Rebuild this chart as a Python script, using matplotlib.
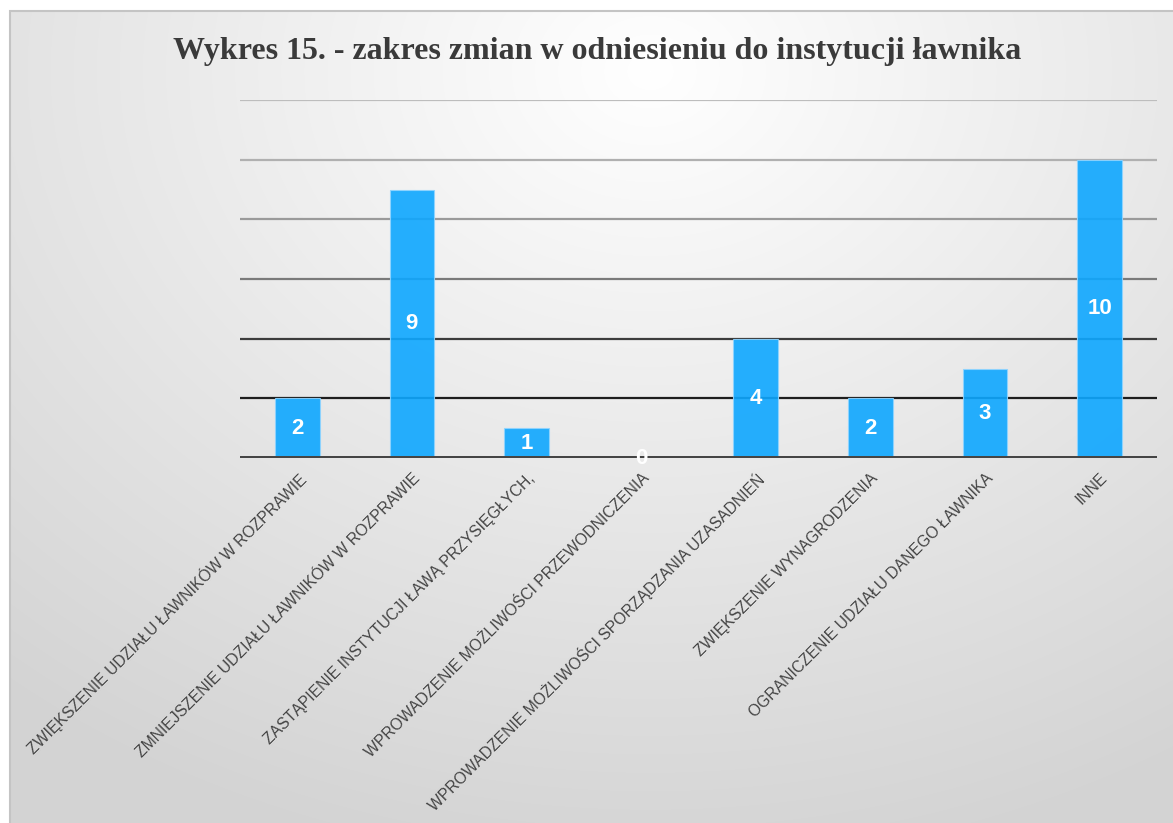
import matplotlib
matplotlib.use("Agg")
import matplotlib.pyplot as plt
from matplotlib.patches import Rectangle
import numpy as np

# dane do wykresu
kategorie = [
    "ZWIĘKSZENIE UDZIAŁU ŁAWNIKÓW W ROZPRAWIE",
    "ZMNIEJSZENIE UDZIAŁU ŁAWNIKÓW W ROZPRAWIE",
    "ZASTĄPIENIE INSTYTUCJI ŁAWĄ PRZYSIĘGŁYCH,",
    "WPROWADZENIE MOŻLIWOŚCI PRZEWODNICZENIA",
    "WPROWADZENIE MOŻLIWOŚCI SPORZĄDZANIA UZASADNIEŃ",
    "ZWIĘKSZENIE WYNAGRODZENIA",
    "OGRANICZENIE UDZIAŁU DANEGO ŁAWNIKA",
    "INNE",
]
liczby = [2, 9, 1, 0, 4, 2, 3, 10]
siatka_y = [2, 4, 6, 8, 10, 12]
siatka_kolory = ["#1e1e1e", "#3c3c3c", "#7a7a7a", "#9a9a9a", "#b0b0b0", "#bdbdbd"]

W, H = 1173, 823
fig = plt.figure(figsize=(W / 100, H / 100), dpi=100)
fig.patch.set_facecolor("white")

# tło z gradientem
bg = fig.add_axes([10 / W, 0, 1 - 10 / W, 1 - 11 / H], zorder=-10)
yy, xx = np.mgrid[0:812, 0:1163]
r = np.sqrt(((xx - 640) / 1.0) ** 2 + ((yy - 60) * 1.25) ** 2)
t = np.clip(r / 1000.0, 0, 1)
shade = 1.0 - 0.17 * t
bg.imshow(np.dstack([shade, shade, shade]), aspect="auto", extent=[0, 1, 0, 1])
bg.set_xlim(0, 1)
bg.set_ylim(0, 1)
bg.axis("off")

# ramka
fig.add_artist(Rectangle((10 / W, -0.01), 1.0, 1 - 11 / H + 0.01, transform=fig.transFigure,
                         fill=False, edgecolor="#c4c4c4", linewidth=1.5))

ax = fig.add_axes([240 / W, 1 - 458 / H, 917 / W, 358 / H])
ax.patch.set_alpha(0)
x = np.arange(len(liczby))

for yv, c in zip(siatka_y, siatka_kolory):
    ax.axhline(yv, color=c, linewidth=1.6, zorder=1)
ax.axhline(0, color="#454545", linewidth=3.6, zorder=3)

bars = ax.bar(x, liczby, width=0.39, color=(14 / 255, 167 / 255, 1.0), alpha=0.9,
              edgecolor="#8fd4ff", linewidth=0.8, zorder=2)

for xi, v in zip(x, liczby):
    ax.text(xi, v / 2, str(v), ha="center", va="center", color="white",
            fontsize=16, fontweight="bold", family="Liberation Sans", zorder=5)

ax.set_xlim(-0.5, len(liczby) - 0.5)
ax.set_ylim(0, 12)
ax.set_yticks([])
ax.set_xticks(x)
ax.set_xticklabels(kategorie, rotation=45, ha="right", rotation_mode="anchor",
                   fontsize=11.3, color="#444444", family="Liberation Sans")
ax.tick_params(axis="x", length=0, pad=9)
for s in ax.spines.values():
    s.set_visible(False)

fig.text(597 / W, 1 - 51 / H, "Wykres 15. - zakres zmian w odniesieniu do instytucji ławnika",
         ha="center", va="center", fontsize=23, fontweight="bold",
         family="Liberation Serif", color="#3a3a3a")

fig.savefig("out.png", dpi=100)
